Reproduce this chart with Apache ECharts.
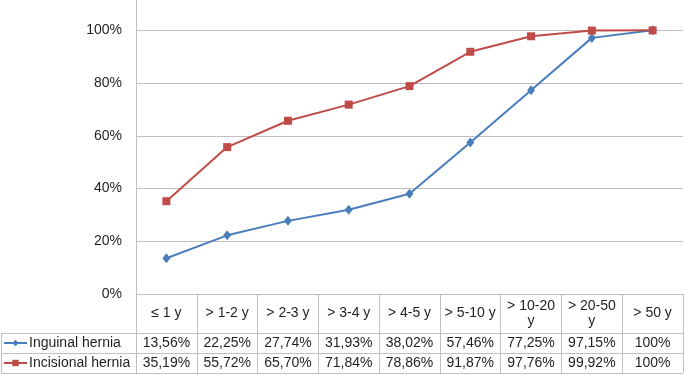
<!DOCTYPE html>
<html>
<head>
<meta charset="utf-8">
<script src="https://cdn.jsdelivr.net/npm/echarts@6/dist/echarts.min.js"></script>
<style>
  html, body { margin: 0; padding: 0; background: #fff; }
  #main { width: 686px; height: 375px; }
</style>
</head>
<body>
<div id="main"></div>
<script>
// 数据
var categories = ['≤ 1 y', '> 1-2 y', '> 2-3 y', '> 3-4 y', '> 4-5 y', '> 5-10 y', '> 10-20\ny', '> 20-50\ny', '> 50 y'];
var inguinal = [13.56, 22.25, 27.74, 31.93, 38.02, 57.46, 77.25, 97.15, 100];
var incisional = [35.19, 55.72, 65.70, 71.84, 78.86, 91.87, 97.76, 99.92, 100];
var yTicks = [0, 20, 40, 60, 80, 100];

// 布局
var W = 686, H = 375;
var gridLeft = 136, gridRight = 3, gridTop = 4, gridBottom = 81;
var headerH = 39, rowH = 20;
var gray = '#bfbfbf';
var textColor = '#1f1f1f';
var font = 'Liberation Sans, Arial, sans-serif';

function fmt(v) {
  return v === 100 ? '100%' : v.toFixed(2).replace('.', ',') + '%';
}

var axisY = H - gridBottom; // 0% 线
var tableBottom = axisY + headerH + rowH * 2;

// 表格行（数值）用额外的 x 轴显示
function rowAxis(values, rowIdx) {
  return {
    type: 'category',
    data: categories,
    position: 'bottom',
    offset: headerH + rowH * rowIdx + rowH / 2,
    axisLine: { show: false },
    axisTick: { show: false },
    splitLine: { show: false },
    axisLabel: {
      interval: 0,
      margin: 0,
      verticalAlign: 'middle',
      fontSize: 14,
      fontFamily: font,
      color: textColor,
      formatter: function (v, i) { return fmt(values[i]); }
    }
  };
}

var chart = echarts.init(document.getElementById('main'));
var option = {
  animation: false,
  backgroundColor: '#fff',
  grid: { left: gridLeft, right: gridRight, top: gridTop, bottom: gridBottom, containLabel: false },
  legend: {
    orient: 'vertical',
    left: 3,
    top: axisY + headerH + rowH / 2 - 7,
    height: 60,
    padding: 0,
    itemWidth: 23,
    itemHeight: 8,
    itemGap: rowH - 14,
    selectedMode: false,
    textStyle: { fontSize: 14, lineHeight: 14, fontFamily: font, color: textColor, padding: [0, 0, 0, -3] },
    data: ['Inguinal hernia', 'Incisional hernia']
  },
  xAxis: [
    {
      type: 'category',
      data: categories,
      boundaryGap: true,
      axisLine: { lineStyle: { color: gray, width: 1 } },
      axisTick: { show: true, length: tableBottom - axisY, lineStyle: { color: gray, width: 1 } },
      axisLabel: {
        interval: 0,
        margin: headerH / 2,
        verticalAlign: 'middle',
        lineHeight: 15,
        fontSize: 14,
        fontFamily: font,
        color: textColor
      }
    },
    rowAxis(inguinal, 0),
    rowAxis(incisional, 1)
  ],
  yAxis: {
    type: 'value',
    min: 0,
    max: 110,
    interval: 20,
    axisLine: { show: true, lineStyle: { color: gray, width: 1 } },
    axisTick: { show: false },
    axisLabel: {
      margin: 14,
      fontSize: 14,
      fontFamily: font,
      color: textColor,
      showMaxLabel: false,
      formatter: function (v) { return yTicks.indexOf(v) >= 0 ? v + '%' : ''; }
    },
    splitLine: {
      show: true,
      lineStyle: { color: [gray, gray, gray, gray, gray, gray, 'rgba(0,0,0,0)'], width: 1 }
    }
  },
  series: [
    {
      name: 'Inguinal hernia',
      type: 'line',
      data: inguinal,
      symbol: 'diamond',
      symbolSize: [8, 10],
      lineStyle: { color: '#4a7ebb', width: 2 },
      itemStyle: { color: '#4a7ebb' }
    },
    {
      name: 'Incisional hernia',
      type: 'line',
      data: incisional,
      symbol: 'rect',
      symbolSize: 8,
      lineStyle: { color: '#be4b48', width: 2 },
      itemStyle: { color: '#be4b48' }
    }
  ],
  // 表格横线
  graphic: [
    { type: 'line', shape: { x1: 1, y1: axisY + headerH + 0.5, x2: W - gridRight, y2: axisY + headerH + 0.5 }, style: { stroke: gray, lineWidth: 1 } },
    { type: 'line', shape: { x1: 1, y1: axisY + headerH + rowH + 0.5, x2: W - gridRight, y2: axisY + headerH + rowH + 0.5 }, style: { stroke: gray, lineWidth: 1 } },
    { type: 'line', shape: { x1: 1, y1: tableBottom + 0.5, x2: W - gridRight, y2: tableBottom + 0.5 }, style: { stroke: gray, lineWidth: 1 } },
    { type: 'line', shape: { x1: 1.5, y1: axisY + headerH, x2: 1.5, y2: tableBottom }, style: { stroke: gray, lineWidth: 1 } },
    { type: 'line', shape: { x1: gridLeft + 0.5, y1: 0, x2: gridLeft + 0.5, y2: gridTop }, style: { stroke: gray, lineWidth: 1 } }
  ]
};
chart.setOption(option);
</script>
</body>
</html>
